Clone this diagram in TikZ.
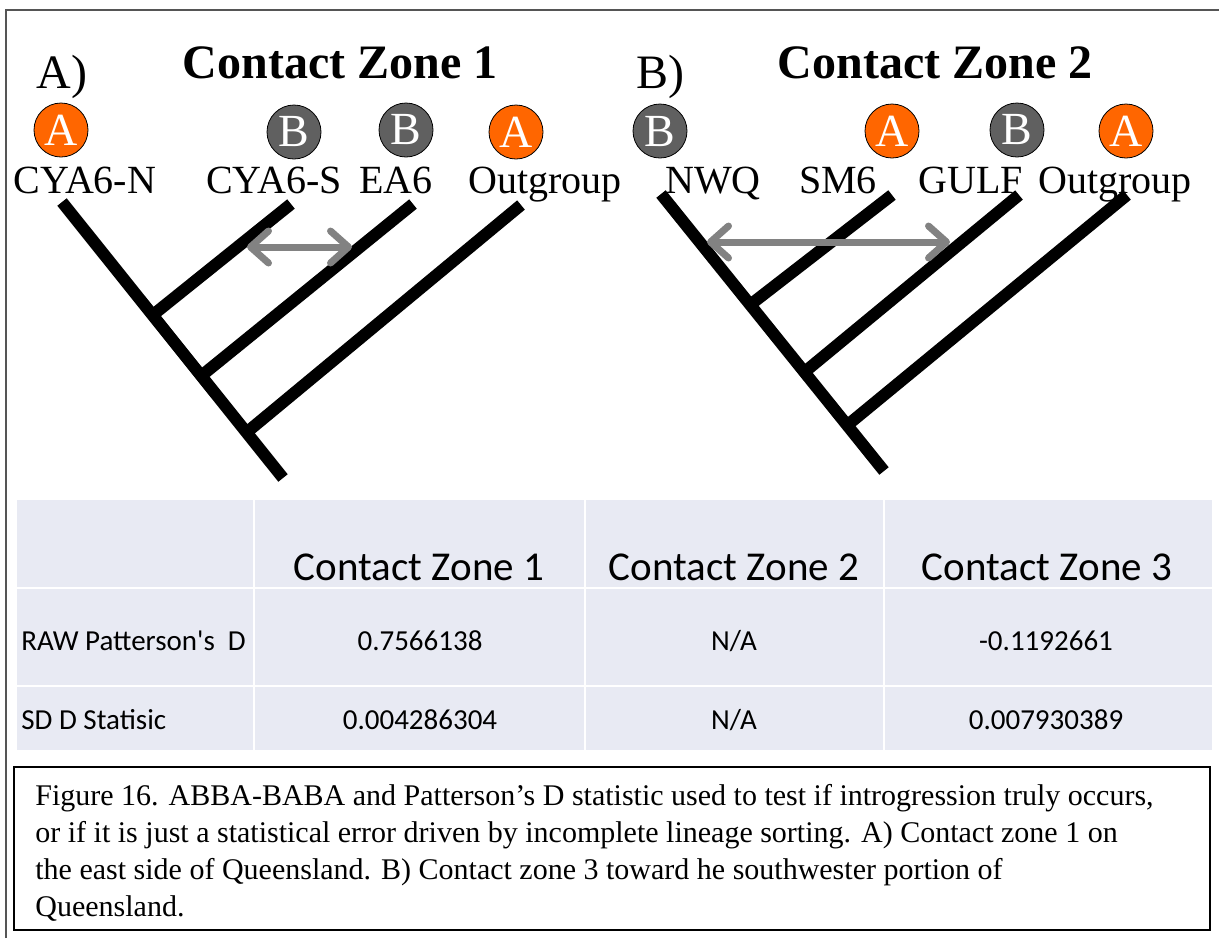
\documentclass[tikz,border=0pt]{standalone}
\usepackage{fontspec}
\setmainfont{Liberation Serif}
\newfontfamily\tabfont{Carlito}
\usepackage{tikz}
\usetikzlibrary{arrows.meta,calc}

\definecolor{popA}{HTML}{FF6600}
\definecolor{popB}{HTML}{606060}
\definecolor{cellbg}{HTML}{E8EAF3}
\definecolor{flowgrey}{HTML}{828282}
\definecolor{framegrey}{HTML}{555555}

\begin{document}
\begin{tikzpicture}[x=0.5pt,y=-0.5pt,
  markA/.style={circle,draw=black,thin,fill=popA,text=white,inner sep=0pt,minimum size=27pt,font=\fontsize{23}{23}\selectfont},
  markB/.style={markA,fill=popB},
  taxon/.style={anchor=base,inner sep=0pt,font=\fontsize{20}{20}\selectfont},
  branch/.style={line width=6pt},
  flow/.style={flowgrey,line width=3.5pt,{Straight Barb[length=9pt,width=16pt,round]}-{Straight Barb[length=9pt,width=16pt,round]}},
  cell/.style={anchor=base,inner sep=0pt,font=\tabfont\fontsize{14.5}{14.5}\selectfont},
  headcell/.style={cell,font=\tabfont\fontsize{20.5}{20.5}\selectfont}]
\useasboundingbox (0,0) rectangle (1219,938);
\draw[framegrey,line width=1pt] (6,938) -- (6,10) -- (1219,10);

% tree A
\node[anchor=base,font=\fontsize{24}{24}\selectfont] (labA) at (62,88) {A)};
\node[anchor=base,font=\bfseries\fontsize{24}{24}\selectfont] (titleA) at (340,78) {Contact Zone 1};
\node[markA] (cA1) at (61,130) {A};
\node[markB] (cA2) at (294,132) {B};
\node[markB] (cA3) at (406,130) {B};
\node[markA] (cA4) at (516,132) {A};
\node[taxon] (cyaN) at (85,193) {CYA6-N};
\node[taxon] (cyaS) at (274,193) {CYA6-S};
\node[taxon] (ea6) at (396,193) {EA6};
\node[taxon] (outA) at (545,193) {Outgroup};
\coordinate (tipA1) at (62,202);
\coordinate (tipA2) at (291,204);
\coordinate (tipA3) at (413,204);
\coordinate (tipA4) at (521,205);
\coordinate (rootA) at (283,478);
\coordinate (jA1) at ($(tipA1)!0.41!(rootA)$);
\coordinate (jA2) at ($(tipA1)!0.63!(rootA)$);
\coordinate (jA3) at ($(tipA1)!0.835!(rootA)$);
\draw[branch] (tipA1) -- (rootA);
\draw[branch] (jA1) -- (tipA2);
\draw[branch] (jA2) -- (tipA3);
\draw[branch] (jA3) -- (tipA4);
\coordinate (gfA1) at (247,247);
\coordinate (gfA2) at (352,247);
\draw[flow] (gfA1) -- (gfA2);

% tree B
\node[anchor=base,font=\fontsize{24}{24}\selectfont] (labB) at (660,88) {B)};
\node[anchor=base,font=\bfseries\fontsize{24}{24}\selectfont] (titleB) at (935,78) {Contact Zone 2};
\node[markB] (cB1) at (660,131) {B};
\node[markA] (cB2) at (892,131) {A};
\node[markB] (cB3) at (1017,130) {B};
\node[markA] (cB4) at (1126,131) {A};
\node[taxon] (nwq) at (713,193) {NWQ};
\node[taxon] (sm6) at (838,193) {SM6};
\node[taxon] (gulf) at (971,193) {GULF};
\node[taxon] (outB) at (1115,193) {Outgroup};
\coordinate (tipB1) at (661,194);
\coordinate (tipB2) at (892,195);
\coordinate (tipB3) at (1019,195);
\coordinate (tipB4) at (1127,195);
\coordinate (rootB) at (884,471);
\coordinate (jB1) at ($(tipB1)!0.40!(rootB)$);
\coordinate (jB2) at ($(tipB1)!0.643!(rootB)$);
\coordinate (jB3) at ($(tipB1)!0.835!(rootB)$);
\draw[branch] (tipB1) -- (rootB);
\draw[branch] (jB1) -- (tipB2);
\draw[branch] (jB2) -- (tipB3);
\draw[branch] (jB3) -- (tipB4);
\coordinate (gfB1) at (707,242);
\coordinate (gfB2) at (950,242);
\draw[flow] (gfB1) -- (gfB2);

% table
\fill[cellbg] (17,500) rectangle (1212,750);
\draw[white,line width=1pt] (254,500) -- (254,750) (585,500) -- (585,750) (884,500) -- (884,750);
\draw[white,line width=1pt] (17,588) -- (1212,588) (17,686) -- (1212,686);
\node[headcell] (h1) at (419,580) {Contact Zone 1};
\node[headcell] (h2) at (734,580) {Contact Zone 2};
\node[headcell] (h3) at (1047,580) {Contact Zone 3};
\node[cell,anchor=base west] (r1) at (21,650) {RAW Patterson\textquotesingle s\ \ D};
\node[cell,anchor=base west] (r2) at (21,729) {SD D Statisic};
\node[cell] (v11) at (420,650) {0.7566138};
\node[cell] (v12) at (734,650) {N/A};
\node[cell] (v13) at (1046,650) {-0.1192661};
\node[cell] (v21) at (420,729) {0.004286304};
\node[cell] (v22) at (734,729) {N/A};
\node[cell] (v23) at (1046,729) {0.007930389};

% caption
\draw[line width=1pt] (14,767) rectangle (1210,930);
\node[anchor=north west,align=left,inner sep=0pt,font=\fontsize{15}{18.5}\selectfont] (cap) at (35,784)
  {Figure 16. ABBA-BABA and Patterson’s D statistic used to test if introgression truly occurs,\\
   or if it is just a statistical error driven by incomplete lineage sorting. A) Contact zone 1 on\\
   the east side of Queensland. B) Contact zone 3 toward he southwester portion of\\
   Queensland.};
\end{tikzpicture}
\end{document}
